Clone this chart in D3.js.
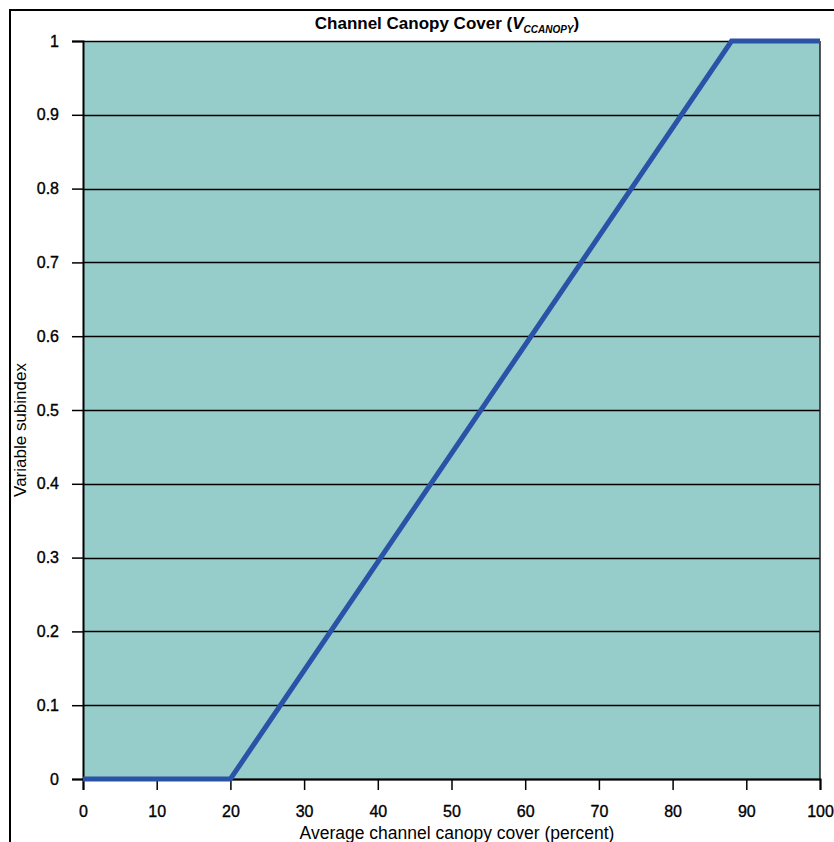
<!DOCTYPE html>
<html>
<head>
<meta charset="utf-8">
<script src="https://cdn.jsdelivr.net/npm/d3@7"></script>
<style>
  html, body { margin: 0; padding: 0; background: #ffffff; }
  svg { display: block; }
</style>
</head>
<body>
<svg id="chart" width="834" height="842"></svg>
<script>
const cover = [0, 20, 88, 100];
const subindex = [0, 0, 1, 1];
const xTicks = [0, 10, 20, 30, 40, 50, 60, 70, 80, 90, 100];
const yTicks = [0, 0.1, 0.2, 0.3, 0.4, 0.5, 0.6, 0.7, 0.8, 0.9, 1];
const titleMain = "Channel Canopy Cover (";
const titleVar = "V";
const titleSub = "CCANOPY";
const titleEnd = ")";
const xLabel = "Average channel canopy cover (percent)";
const yLabel = "Variable subindex";

const svg = d3.select("#chart");
const font = "Arial, 'Liberation Sans', sans-serif";

// outer frame
svg.append("rect")
  .attr("x", 10).attr("y", 10)
  .attr("width", 840).attr("height", 850)
  .attr("fill", "none").attr("stroke", "#000").attr("stroke-width", 2);

const pLeft = 83, pRight = 820, pTop = 41, pBottom = 779;
const x = d3.scaleLinear().domain([0, 100]).range([pLeft, pRight]);
const y = d3.scaleLinear().domain([0, 1]).range([pBottom, pTop]);

// plot background
svg.append("rect")
  .attr("x", pLeft).attr("y", pTop)
  .attr("width", pRight - pLeft).attr("height", pBottom - pTop)
  .attr("fill", "#96CCCA");

// gridlines
svg.append("g").selectAll("line").data(yTicks).join("line")
  .attr("x1", pLeft).attr("x2", pRight)
  .attr("y1", d => Math.round(y(d)) + 0.5).attr("y2", d => Math.round(y(d)) + 0.5)
  .attr("stroke", "#000").attr("stroke-width", 1.3);

// right border of plot
svg.append("line")
  .attr("x1", pRight).attr("x2", pRight).attr("y1", pTop).attr("y2", pBottom)
  .attr("stroke", "#222").attr("stroke-width", 1.5);

// y axis
const yAxis = d3.axisLeft(y).tickValues(yTicks).tickSize(11).tickPadding(13)
  .tickFormat(d => String(+d.toFixed(1)));
const gy = svg.append("g").attr("transform", `translate(${pLeft},0)`).call(yAxis);
gy.select(".domain").attr("stroke", "#000").attr("stroke-width", 2);
gy.selectAll(".tick line").attr("stroke", "#000").attr("stroke-width", 1.5);
gy.selectAll(".tick text").attr("font-family", font).attr("font-size", 16).attr("fill", "#000")
  .attr("stroke", "#000").attr("stroke-width", 0.35);

// x axis
const xAxis = d3.axisBottom(x).tickValues(xTicks).tickSize(11).tickPadding(16)
  .tickFormat(d3.format("d"));
const gx = svg.append("g").attr("transform", `translate(0,${pBottom})`).call(xAxis);
gx.select(".domain").attr("stroke", "#000").attr("stroke-width", 2);
gx.selectAll(".tick line").attr("stroke", "#000").attr("stroke-width", 1.5);
gx.selectAll(".tick text").attr("font-family", font).attr("font-size", 16).attr("fill", "#000")
  .attr("stroke", "#000").attr("stroke-width", 0.35);

// data line
const pts = cover.map((c, i) => [c, subindex[i]]);
svg.append("path")
  .datum(pts)
  .attr("d", d3.line().x(d => x(d[0])).y(d => y(d[1])))
  .attr("fill", "none").attr("stroke", "#2A52A6").attr("stroke-width", 5)
  .attr("stroke-linejoin", "miter").attr("stroke-linecap", "butt");

// title
const t = svg.append("text")
  .attr("x", 447).attr("y", 29)
  .attr("text-anchor", "middle")
  .attr("font-family", font).attr("font-size", 17).attr("font-weight", "bold")
  .attr("fill", "#000");
t.append("tspan").text(titleMain);
t.append("tspan").attr("font-style", "italic").text(titleVar);
t.append("tspan").attr("font-style", "italic").attr("font-size", 10).attr("dy", 4).text(titleSub);
t.append("tspan").attr("dy", -4).text(titleEnd);

// x label
svg.append("text")
  .attr("x", 457).attr("y", 839)
  .attr("text-anchor", "middle")
  .attr("font-family", font).attr("font-size", 17.5).attr("fill", "#000")
  .text(xLabel);

// y label
svg.append("text")
  .attr("transform", "translate(26,430) rotate(-90)")
  .attr("text-anchor", "middle")
  .attr("font-family", font).attr("font-size", 17).attr("fill", "#000")
  .text(yLabel);
</script>
</body>
</html>
